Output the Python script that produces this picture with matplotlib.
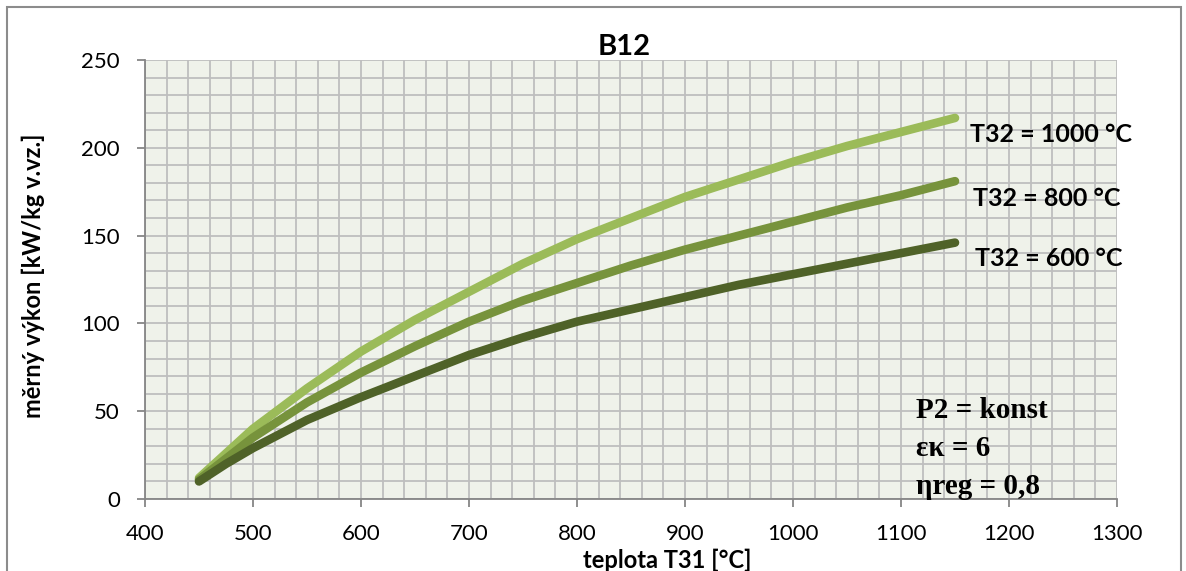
import matplotlib
matplotlib.use('Agg')
import matplotlib.pyplot as plt
from matplotlib.patches import Rectangle
from matplotlib.ticker import MultipleLocator

# teplota T31 [°C]
t31 = [450, 475, 500, 550, 600, 650, 700, 750, 800, 850, 900, 950, 1000, 1050, 1100, 1150]
# měrný výkon pro jednotlivé T32
vykon_1000 = [12, 26, 40, 63, 84, 102, 118, 134, 148, 160, 172, 182, 192, 201, 209, 217]
vykon_800 = [11, 23, 35, 55, 72, 87, 101, 113, 123, 133, 142, 150, 158, 166, 173, 181]
vykon_600 = [10, 20, 29, 45, 58, 70, 82, 92, 101, 108, 115, 122, 128, 134, 140, 146]

popisky = ['T32 = 1000 °C', 'T32 = 800 °C', 'T32 = 600 °C']
barvy = ['#9BBB59', '#77933C', '#4F6228']

W, H = 1186, 571
fig = plt.figure(figsize=(W / 100, H / 100), dpi=100)
ax = fig.add_axes([145 / W, 1 - 499 / H, (1117 - 145) / W, (499 - 60) / H])

# rámeček grafu
fig.patches.append(Rectangle((7 / W, -0.05), 1174 / W, 1 - 7 / H + 0.05,
                             transform=fig.transFigure, fill=False,
                             edgecolor='#8C8C8C', linewidth=1.5))

ax.set_facecolor('#EFF2EA')
for serie, barva in zip([vykon_1000, vykon_800, vykon_600], barvy):
    ax.plot(t31, serie, color=barva, linewidth=6.2, solid_capstyle='round',
            solid_joinstyle='round', zorder=3)

ax.set_xlim(400, 1300)
ax.set_ylim(0, 250)
ax.xaxis.set_major_locator(MultipleLocator(100))
ax.xaxis.set_minor_locator(MultipleLocator(20))
ax.yaxis.set_major_locator(MultipleLocator(50))
ax.yaxis.set_minor_locator(MultipleLocator(10))
ax.grid(which='both', color='#BEBEBE', linewidth=1.3, zorder=0)
ax.set_axisbelow(True)

for s in ['top', 'right']:
    ax.spines[s].set_visible(False)
for s in ['left', 'bottom']:
    ax.spines[s].set_color('#868686')
    ax.spines[s].set_linewidth(1.3)
ax.tick_params(which='major', length=6, width=1.3, color='#868686',
               labelsize=16)
ax.tick_params(axis='x', pad=12)
ax.tick_params(axis='y', pad=12)
ax.tick_params(which='minor', length=0)
for lab in ax.get_xticklabels() + ax.get_yticklabels():
    lab.set_fontfamily('Lato')

fig.text(624 / W, 1 - 47 / H, 'B12', fontsize=21, fontweight='bold',
         family='Lato', ha='center', va='center')
fig.text(667 / W, 1 - 560 / H, 'teplota T31 [°C]', fontsize=17,
         fontweight='bold', family='Lato', ha='center', va='center')
fig.text(33 / W, 1 - 276 / H, 'měrný výkon [kW/kg v.vz.]', fontsize=17,
         fontweight='bold', family='Lato', ha='center', va='center',
         rotation=90)

# popisky křivek
for text, (x, y) in zip(popisky, [(970, 135), (973, 198), (975, 258)]):
    fig.text(x / W, 1 - y / H, text, fontsize=18, fontweight='bold',
             family='Lato', ha='left', va='center')

for text, y in zip(['P2 = konst', 'εκ = 6', 'ηreg = 0,8'], [411, 449, 487]):
    fig.text(916 / W, 1 - y / H, text, fontsize=21, fontweight='bold',
             family='Liberation Serif', ha='left', va='center')

fig.savefig('out.png', dpi=100)
